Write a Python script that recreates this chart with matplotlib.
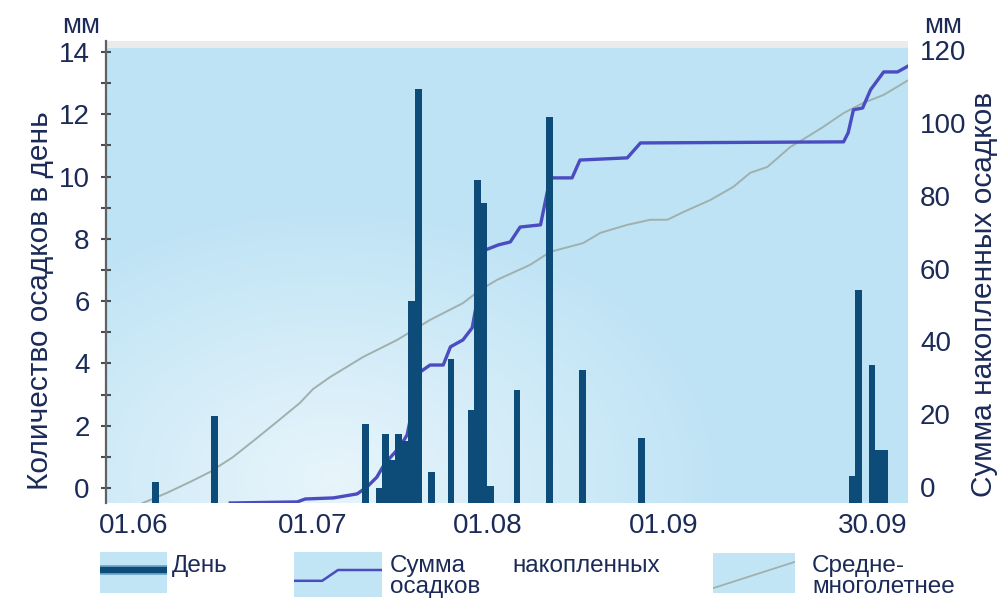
import numpy as np
import matplotlib
matplotlib.use("Agg")
import matplotlib.pyplot as plt
from matplotlib.colors import to_rgb
from matplotlib.patches import Rectangle

plt.rcParams['font.family'] = ['Liberation Sans', 'DejaVu Sans']

# ---------------- data (x = days since 01.06) ----------------
bar_day = [7, 16, 39, 41, 42, 43, 44, 45, 46, 47, 49, 52, 55, 56, 57, 58,
           62, 67, 72, 81, 113, 114, 116, 117, 118]
bar_mm = [0.2, 2.3, 2.05, 0.0, 1.73, 0.9, 1.73, 1.5, 6.0, 12.8, 0.5, 4.15,
          2.5, 9.9, 9.15, 0.05, 3.15, 11.9, 3.8, 1.6, 0.4, 6.35, 3.95, 1.22, 1.22]

cum_x = [18.9, 29.1, 30.3, 34.6, 38.2, 39.7, 41.2, 42.1, 43.2, 44.7, 45.8,
         47.8, 49.3, 51.3, 52.4, 54.3, 55.7, 56.2, 56.6, 57.7, 59.7, 61.5,
         63.0, 66.1, 67.1, 67.6, 70.9, 72.1, 79.3, 81.3, 112.2, 112.9, 113.7,
         115.1, 116.3, 118.3, 120.4, 122.1]
cum_mm = [-4.4, -4.1, -3.3, -3.0, -1.9, 0.0, 2.7, 5.5, 8.0, 11.0, 14.3,
          31.6, 33.5, 33.5, 38.5, 40.4, 43.7, 48.6, 56.0, 65.1, 66.5, 67.3,
          71.4, 72.0, 80.8, 84.9, 84.9, 89.8, 90.4, 94.5, 94.8, 97.3, 103.6,
          104.1, 109.1, 114.0, 114.0, 115.7]

avg_x = [5.6, 9.3, 12.8, 15.8, 19.3, 23.0, 26.0, 29.5, 31.5, 34.1, 39.1,
         44.3, 49.3, 54.3, 56.9, 59.5, 64.5, 67.6, 72.6, 75.2, 79.3, 82.8,
         85.4, 87.8, 91.9, 95.4, 98.0, 100.6, 104.1, 106.7, 109.1, 112.2,
         115.2, 118.3, 122.1]
avg_mm = [-4.4, -1.6, 1.4, 4.1, 8.2, 13.5, 17.9, 23.1, 26.9, 30.2, 35.7,
          40.4, 45.9, 50.5, 54.1, 56.9, 61.0, 64.6, 67.0, 69.8, 72.0, 73.4,
          73.4, 75.5, 78.8, 82.4, 86.3, 87.9, 93.4, 96.2, 98.9, 102.7,
          105.5, 107.7, 111.8]

x_tick_labels = ["01.06", "01.07", "01.08", "01.09", "30.09"]
left_ticks = [0, 2, 4, 6, 8, 10, 12, 14]
right_ticks = [0, 20, 40, 60, 80, 100, 120]
legend_labels = ["День", "Сумма накопленных осадков", "Средне-многолетнее"]

# ---------------- layout / style ----------------
x_tick_pos = [4.2, 31.4, 58.1, 84.8, 116.7]
TXT = '#1b2a57'
BAR = '#0d4b79'
CUM = '#4b4cc0'
AVG = '#9fb0ae'
W, H = 1001, 598

fig = plt.figure(figsize=(W / 100, H / 100), dpi=100)
fig.patch.set_facecolor('white')
ax = fig.add_axes([106 / W, 95 / H, 802 / W, 462 / H])

# background gradient
yy, xx = np.mgrid[0:1:200j, 0:1:300j]
d = np.sqrt(((xx - 0.28) / 0.5) ** 2 + ((yy - 0.05) / 0.6) ** 2)
t = np.clip(d, 0, 1)[..., None]
light = np.array(to_rgb('#e8f5fb'))
base = np.array(to_rgb('#bee3f5'))
bg = light * (1 - t) + base * t
ax.imshow(bg, extent=[0, 1, 0, 1], transform=ax.transAxes, origin='lower',
          aspect='auto', zorder=0, interpolation='bilinear')
ax.add_patch(Rectangle((0, 0.985), 1, 0.015, transform=ax.transAxes,
                       color='#ebebeb', zorder=1, lw=0))

ax.plot(avg_x, avg_mm, color=AVG, lw=1.4, zorder=2)
ax.plot(cum_x, cum_mm, color=CUM, lw=2.4, zorder=3, solid_joinstyle='round')
ax.set_xlim(0, 122)
ax.set_ylim(-4.40, 122.5)
for s in ax.spines.values():
    s.set_visible(False)

ax2 = ax.twinx()
ax.yaxis.tick_right()
ax2.yaxis.tick_left()
ax.set_yticks(right_ticks)
ax.tick_params(axis='y', length=0, pad=8.6, labelsize=20, labelcolor=TXT,
               left=False, labelleft=False, right=True, labelright=True)
ax.set_xticks(x_tick_pos, x_tick_labels)
ax.tick_params(axis='x', length=0, pad=7, labelsize=20, labelcolor=TXT)

ax2.set_ylim(-0.48, 14.35)
ybot = ax2.get_ylim()[0]
ax2.bar(np.array(bar_day) + 0.5, np.array(bar_mm) - ybot, bottom=ybot,
        width=1.0, color=BAR, lw=0, zorder=3)
ax2.set_xlim(0, 122)
for k, s in ax2.spines.items():
    s.set_visible(k == 'left')
ax2.spines['left'].set_color('#5e6264')
ax2.spines['left'].set_linewidth(1.6)
ax2.set_yticks(left_ticks)
ax2.set_yticks(range(0, 15), minor=True)
ax2.tick_params(axis='y', which='both', direction='inout', length=7,
                width=1.5, color='#4a4e52', pad=8.3, labelsize=20,
                labelcolor=TXT, left=True, labelleft=True, right=False,
                labelright=False)

# axis titles
fig.text(81 / W, 1 - 26 / H, 'мм', ha='center', va='center', fontsize=20, color=TXT)
fig.text(943 / W, 1 - 26 / H, 'мм', ha='center', va='center', fontsize=20, color=TXT)
fig.text(40 / W, 1 - 301 / H, 'Количество осадков в день', rotation=90,
         ha='center', va='center', fontsize=21.5, color=TXT)
fig.text(984 / W, 1 - 294 / H, 'Сумма накопленных осадков', rotation=90,
         ha='center', va='center', fontsize=21.5, color=TXT)

# legend
def swatch(x0, y0, x1, y1):
    a = fig.add_axes([x0 / W, 1 - y1 / H, (x1 - x0) / W, (y1 - y0) / H])
    a.set_facecolor('#c2e5f6')
    a.set_xlim(0, 1)
    a.set_ylim(0, 1)
    a.set_xticks([])
    a.set_yticks([])
    for s in a.spines.values():
        s.set_visible(False)
    return a

s1 = swatch(100, 552, 167, 593)
s1.plot([0, 1], [0.55, 0.55], color='#6aa6c8', lw=7, solid_capstyle='butt')
s1.plot([0, 1], [0.55, 0.55], color=BAR, lw=4.5, solid_capstyle='butt')
s2 = swatch(294, 552, 382, 597)
s2.plot([0, 0.32, 0.5, 1], [0.36, 0.36, 0.6, 0.6], color=CUM, lw=1.8)
s3 = swatch(713, 553, 795, 593)
s3.plot([0, 0.5, 1], [0.12, 0.45, 0.78], color=AVG, lw=1.3)

lw1, lw2, lw3 = legend_labels[0], legend_labels[1].split(' '), legend_labels[2].split('-')
fs = 17.5
fig.text(172 / W, 1 - 572 / H, lw1, ha='left', va='baseline', fontsize=fs, color=TXT)
fig.text(390 / W, 1 - 572 / H, lw2[0], ha='left', va='baseline', fontsize=fs, color=TXT)
fig.text(512 / W, 1 - 572 / H, lw2[1], ha='left', va='baseline', fontsize=fs, color=TXT)
fig.text(390 / W, 1 - 593 / H, lw2[2], ha='left', va='baseline', fontsize=fs, color=TXT)
fig.text(812 / W, 1 - 572 / H, lw3[0] + '-', ha='left', va='baseline', fontsize=fs, color=TXT)
fig.text(812 / W, 1 - 593 / H, lw3[1], ha='left', va='baseline', fontsize=fs, color=TXT)

fig.savefig('out.png', dpi=100)
